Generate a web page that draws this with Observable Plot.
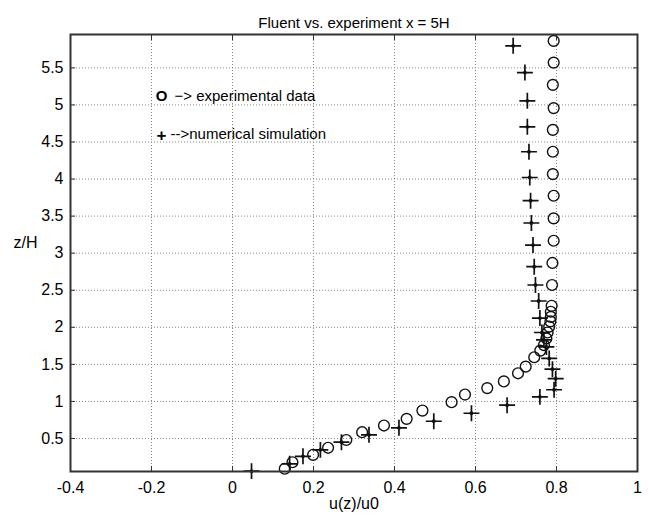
<!DOCTYPE html>
<html><head><meta charset="utf-8">
<script src="https://cdn.jsdelivr.net/npm/d3@7"></script>
<script src="https://cdn.jsdelivr.net/npm/@observablehq/plot@0.6"></script>
<style>body{margin:0;background:#fff;} #chart svg{display:block;}</style>
</head><body><div id="chart"></div>
<script>
// Experimental data (circles)
const expZ = [0.092,0.18,0.28,0.375,0.48,0.585,0.675,0.765,0.877,0.99,1.093,1.18,1.27,1.38,1.47,1.596,1.686,1.76,1.85,1.93,2.01,2.08,2.14,2.21,2.29,2.571,2.868,3.168,3.469,3.775,4.067,4.368,4.664,4.957,5.271,5.571,5.864];
const expU = [0.129,0.148,0.199,0.236,0.281,0.32,0.374,0.43,0.469,0.541,0.574,0.629,0.67,0.705,0.724,0.745,0.76,0.769,0.775,0.778,0.782,0.785,0.786,0.786,0.788,0.789,0.79,0.793,0.793,0.793,0.791,0.791,0.791,0.793,0.791,0.793,0.793];
// Numerical simulation (plus markers)
const numZ = [0.06,0.159,0.26,0.347,0.45,0.55,0.644,0.733,0.841,0.95,1.062,1.158,1.307,1.435,1.58,1.735,1.83,1.93,2.125,2.355,2.571,2.818,3.11,3.407,3.708,4.021,4.368,4.705,5.055,5.437,5.797];
const numU = [0.047,0.141,0.174,0.217,0.269,0.337,0.411,0.497,0.59,0.678,0.759,0.794,0.798,0.79,0.782,0.775,0.769,0.764,0.759,0.756,0.748,0.745,0.742,0.738,0.736,0.734,0.732,0.728,0.728,0.722,0.693];

const xTicks = [-0.4,-0.2,0,0.2,0.4,0.6,0.8,1];
const yTicks = [0.5,1,1.5,2,2.5,3,3.5,4,4.5,5,5.5];
const xDomain = [-0.4, 1];
const yDomain = [0.055, 5.95];

const titleText = "Fluent vs. experiment x = 5H";
const xLabelText = "u(z)/u0";
const yLabelText = "z/H";
const legendSymbols = ["O", "+"];
const legendLabels = ["\u2212> experimental data", "-->numerical simulation"];

const expData = expZ.map((z, i) => ({z, u: expU[i]}));
const numData = numZ.map((z, i) => ({z, u: numU[i]}));

const FONT = "'Liberation Sans', Arial, Helvetica, sans-serif";
const fmt = d => String(d);

const chart = Plot.plot({
  width: 649,
  height: 518,
  marginLeft: 70,
  marginRight: 12,
  marginTop: 34,
  marginBottom: 47,
  style: {fontFamily: FONT, fontSize: "16px", color: "#000", background: "#fff"},
  x: {domain: xDomain},
  y: {domain: yDomain},
  marks: [
    Plot.gridX(xTicks, {stroke: "#888", strokeOpacity: 1, strokeWidth: 1, strokeDasharray: "1,2"}),
    Plot.gridY(yTicks, {stroke: "#888", strokeOpacity: 1, strokeWidth: 1, strokeDasharray: "1,2"}),
    Plot.axisX(xTicks, {anchor: "bottom", tickSize: -5, tickPadding: 15, tickFormat: fmt, label: null, fontSize: 16, stroke: "#333"}),
    Plot.axisX(xTicks, {anchor: "top", tickSize: -5, tickFormat: () => "", label: null, stroke: "#333"}),
    Plot.axisY(yTicks, {anchor: "left", tickSize: -5, tickPadding: 12, tickFormat: fmt, label: null, fontSize: 16, stroke: "#333"}),
    Plot.axisY(yTicks, {anchor: "right", tickSize: -5, tickFormat: () => "", label: null, stroke: "#333"}),
    Plot.dot(expData, {x: "u", y: "z", r: 5.4, stroke: "#111", strokeWidth: 1.4, fill: "none"}),
    Plot.dot(numData, {x: "u", y: "z", symbol: "plus", r: 5.2, stroke: "#111", strokeWidth: 1.7}),
    Plot.dot(numData, {x: "u", y: "z", r: 1.9, fill: "#111"}),
    Plot.frame({stroke: "#333", strokeWidth: 2}),
    // legend annotations
    Plot.text([legendSymbols[0]], {text: d => d, frameAnchor: "top-left", dx: 91, dy: 56, fontWeight: "bold", fontSize: 15, textAnchor: "middle", fill: "#000"}),
    Plot.text([legendLabels[0]], {text: d => d, frameAnchor: "top-left", dx: 104, dy: 56, fontSize: 15, textAnchor: "start", fill: "#000"}),
    Plot.text([legendSymbols[1]], {text: d => d, frameAnchor: "top-left", dx: 91, dy: 94, fontWeight: "bold", fontSize: 17, textAnchor: "middle", fill: "#000"}),
    Plot.text([legendLabels[1]], {text: d => d, frameAnchor: "top-left", dx: 100, dy: 94, fontSize: 15, textAnchor: "start", fill: "#000"}),
    // title and axis labels
    Plot.text([titleText], {text: d => d, frameAnchor: "top", dy: -17, fontSize: 15, textAnchor: "middle", fill: "#000"}),
    Plot.text([xLabelText], {text: d => d, frameAnchor: "bottom", dy: 37, fontSize: 16, textAnchor: "middle", fill: "#000"}),
    Plot.text([yLabelText], {text: d => d, frameAnchor: "left", dx: -45, dy: -10, fontSize: 16, textAnchor: "middle", fill: "#000"})
  ]
});
document.getElementById("chart").appendChild(chart);
</script>
</body></html>
